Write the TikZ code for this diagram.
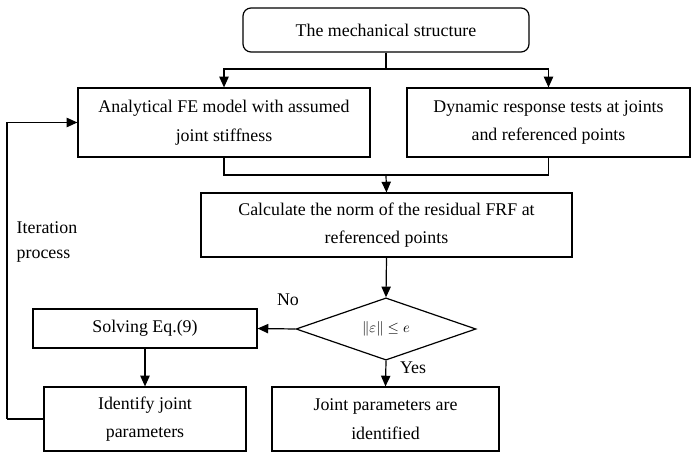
\documentclass[tikz,border=0pt]{standalone}
\usepackage{fontspec}
\setmainfont{Liberation Serif}
\usetikzlibrary{shapes.geometric, arrows.meta, positioning}

\tikzset{
  flowbox/.style={draw, line width=0.9pt, rectangle, align=center, inner sep=0pt, font=\fontsize{13.4}{21.5}\selectfont},
  startbox/.style={flowbox, rounded corners=6pt},
  checkbox/.style={draw, line width=0.9pt, diamond, inner sep=0pt, minimum width=135pt, minimum height=36pt, font=\fontsize{11}{11}\selectfont},
  flowline/.style={line width=0.9pt},
  flowarrow/.style={flowline, -{Triangle[length=8pt, width=7pt]}},
  tag/.style={font=\fontsize{13.4}{19}\selectfont}
}

\begin{document}
\begin{tikzpicture}[x=0.75pt, y=-0.75pt]
  \useasboundingbox (0,0) rectangle (693,452);

  % Boxes
  \node[startbox, minimum width=214.5pt, minimum height=33pt] (structure) at (386,30) {The mechanical structure};
  \node[flowbox, minimum width=219pt, minimum height=51.75pt] (femodel) at (224,122.5) {Analytical FE model with assumed\\joint stiffness};
  \node[flowbox, minimum width=212.25pt, minimum height=51.75pt] (tests) at (548.5,122.5) {Dynamic response tests at joints\\and referenced points};
  \node[flowbox, minimum width=278.25pt, minimum height=48pt] (residual) at (386.5,225) {Calculate the norm of the residual FRF at\\referenced points};
  \node[checkbox] (check) at (386,329) {$\left\|\varepsilon\right\|\leq e$};
  \node[flowbox, minimum width=168pt, minimum height=29.25pt] (solve) at (145,328.5) {Solving Eq.(9)};
  \node[flowbox, minimum width=151.5pt, minimum height=48pt] (identify) at (145,419) {Identify joint\\parameters};
  \node[flowbox, minimum width=170.25pt, minimum height=48pt] (done) at (385.5,419) {Joint parameters are\\identified};

  % Split and merge
  \coordinate (split) at (386,69);
  \coordinate (merge) at (386,175);
  \draw[flowline] (structure.south) -- (split);
  \draw[flowarrow] (split) -| (femodel.north);
  \draw[flowarrow] (split) -| (tests.north);
  \draw[flowline] (femodel.south) |- (merge);
  \draw[flowline] (tests.south) |- (merge);
  \draw[flowarrow] (merge) -- (residual.north);
  \draw[flowarrow] (residual.south) -- (check.north);

  % Decision
  \draw[flowarrow] (check.west) -- (solve.east);
  \draw[flowarrow] (check.south) -- (done.north);
  \draw[flowarrow] (solve.south) -- (identify.north);
  \node[tag] (nolabel) at (288,300) {No};
  \node[tag] (yeslabel) at (413,368) {Yes};

  % Iteration loop
  \coordinate (loop) at (7,419);
  \draw[flowline] (identify.west) -- (loop);
  \draw[flowarrow] (loop) |- (femodel.west);
  \node[tag, anchor=west, align=left] (iterlabel) at (12,242) {Iteration\\process};
\end{tikzpicture}
\end{document}
